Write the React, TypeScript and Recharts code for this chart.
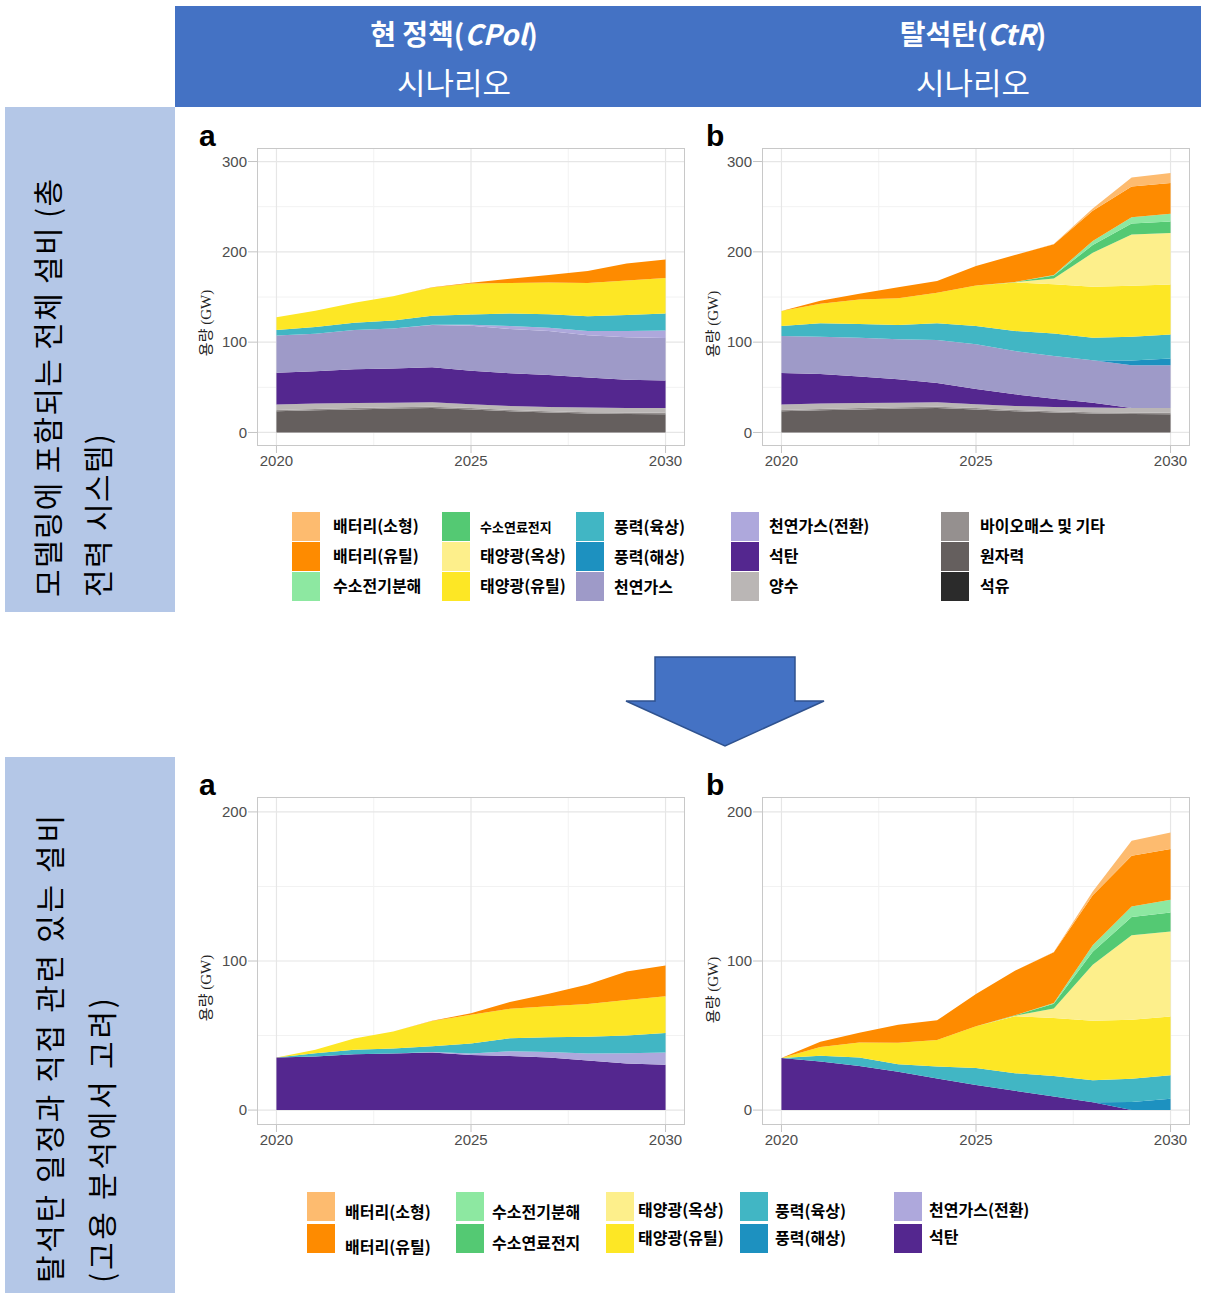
import React from 'react';
import { AreaChart, Area, XAxis, YAxis, CartesianGrid } from 'recharts';

// ---------- data ----------
const YEARS = [2020, 2021, 2022, 2023, 2024, 2025, 2026, 2027, 2028, 2029, 2030];

// shared base generation
const oil = [0, 0, 0, 0, 0, 0, 0, 0, 0, 0, 0];
const nuclear = [23.5, 24.5, 25.5, 26.5, 27, 25.5, 23.5, 22, 21, 20.5, 20.2];
const biomass = [1.5, 1.5, 1.5, 1.5, 1.5, 1.5, 1.5, 1.5, 1.5, 1.5, 1.5];
const pumped = [5.9, 6, 5.5, 5, 5, 4.3, 4.4, 4.8, 5.1, 5.2, 5.5];

// current policy (CPol)
const coalCPol = [35.3, 35.9, 37.5, 37.9, 38.6, 37, 36.2, 35.3, 33.3, 31.3, 30.4];
const gasCPol = [41.3, 41.4, 43.4, 44.3, 46.8, 49.9, 48.9, 48.8, 46.7, 46.9, 47.1];
const gasConvCPol = [0, 0, 0, 0, 0.3, 1, 3.3, 3.6, 4.7, 6.9, 8.3];
const windOnCPol = [5.9, 7.4, 8.1, 8.8, 10.1, 11.5, 14, 15, 16.5, 17.7, 18.8];
const solarUtilCPol = [14.3, 18, 22, 26.9, 31.2, 34.2, 33.8, 35, 36.8, 38.2, 39.3];
const battUtilCPol = [0, 0, 0, 0, 0.2, 1, 4.6, 8.4, 13.2, 19, 20.5];
// CPol, coal-phase-out related capacity
const windOnCoalCPol = [0, 2.3, 2.9, 3.4, 4, 6.7, 8.7, 9.9, 11.2, 11.8, 13];
const solarUtilCoalCPol = [0, 2.2, 7.6, 11.4, 16.8, 19.2, 19.7, 20.9, 21.9, 23.9, 24.7];

// coal retirement (CtR)
const coalCtR = [35, 32.6, 29.5, 25.8, 21.2, 16.9, 12.9, 9.1, 5.3, 0, 0];
const gasCtR = [40.8, 41.4, 43, 44.3, 47.6, 49.4, 47.9, 47.2, 47, 47.2, 47.2];
const windOffCtR = [0, 0, 0, 0, 0, 0, 0, 0, 0, 5.4, 7.6];
const windOnCtR = [11.1, 14.8, 15, 15.8, 18.5, 20.2, 22.1, 25.1, 25.1, 26.2, 26.6];
const solarUtilCtR = [16.6, 21.6, 27.2, 29.8, 33.8, 45, 53.8, 54.5, 56.3, 56.4, 55.3];
const solarRoofCtR = [0, 0, 0, 0, 0, 0, 0.3, 6.4, 37.6, 56.7, 57];
const fuelCellCtR = [0, 0, 0, 0, 0, 0, 0.3, 3.2, 8.7, 12.2, 12.7];
const electrolysisCtR = [0, 0, 0, 0, 0, 0, 0, 0.6, 4.4, 7.1, 8.5];
const battUtilCtR = [0, 3.4, 6.5, 12, 13.2, 21.5, 29.8, 34, 33.5, 34, 34.1];
const battSmallCtR = [0, 0, 0, 0, 0, 0, 0, 0.2, 2.5, 10, 11.1];
// CtR, coal-phase-out related capacity
const windOnCoalCtR = [0, 3.8, 5.8, 4.9, 8, 11.4, 11.8, 13.8, 14.7, 15.6, 15.8];
const solarUtilCoalCtR = [0, 6, 10, 14.5, 17.8, 28, 38.3, 38.8, 39.9, 39.6, 39.4];

const Y_TICKS_TOTAL = [0, 100, 200, 300];
const Y_MINOR_TOTAL = [50, 150, 250];
const Y_TICKS_COAL = [0, 100, 200];
const Y_MINOR_COAL = [50, 150];
const X_TICKS = [2020, 2025, 2030];
const X_MINOR = [2022.5, 2027.5];

const HEADER_LEFT = ['현 정책(', 'CPol', ')'];
const HEADER_RIGHT = ['탈석탄(', 'CtR', ')'];
const SCENARIO = '시나리오';
const SIDE_TOP = ['모델링에 포함되는 전체 설비 (총', '전력 시스템)'];
const SIDE_BOTTOM = ['탈석탄 일정과 직접 관련 있는 설비', '(고용 분석에서 고려)'];
const Y_LABEL = '용량 (GW)';

// ---------- styles ----------
const COLORS: Record<string, string> = {
  '배터리(소형)': '#fdbb6f',
  '배터리(유틸)': '#fe8b00',
  '수소전기분해': '#8de8a1',
  '수소연료전지': '#54c973',
  '태양광(옥상)': '#fdef8b',
  '태양광(유틸)': '#fde725',
  '풍력(육상)': '#41b6c4',
  '풍력(해상)': '#1d91c0',
  '천연가스': '#9e9ac8',
  '천연가스(전환)': '#aea8dc',
  '석탄': '#54278f',
  '양수': '#bab6b5',
  '바이오매스 및 기타': '#95908f',
  '원자력': '#655f5e',
  '석유': '#2b2b2b',
};

type S = { name: string; values: number[] };

const SERIES_TOP_A: S[] = [
  { name: '석유', values: oil },
  { name: '원자력', values: nuclear },
  { name: '바이오매스 및 기타', values: biomass },
  { name: '양수', values: pumped },
  { name: '석탄', values: coalCPol },
  { name: '천연가스', values: gasCPol },
  { name: '천연가스(전환)', values: gasConvCPol },
  { name: '풍력(육상)', values: windOnCPol },
  { name: '태양광(유틸)', values: solarUtilCPol },
  { name: '배터리(유틸)', values: battUtilCPol },
];
const SERIES_TOP_B: S[] = [
  { name: '석유', values: oil },
  { name: '원자력', values: nuclear },
  { name: '바이오매스 및 기타', values: biomass },
  { name: '양수', values: pumped },
  { name: '석탄', values: coalCtR },
  { name: '천연가스', values: gasCtR },
  { name: '풍력(해상)', values: windOffCtR },
  { name: '풍력(육상)', values: windOnCtR },
  { name: '태양광(유틸)', values: solarUtilCtR },
  { name: '태양광(옥상)', values: solarRoofCtR },
  { name: '수소연료전지', values: fuelCellCtR },
  { name: '수소전기분해', values: electrolysisCtR },
  { name: '배터리(유틸)', values: battUtilCtR },
  { name: '배터리(소형)', values: battSmallCtR },
];
const SERIES_BOT_A: S[] = [
  { name: '석탄', values: coalCPol },
  { name: '천연가스(전환)', values: gasConvCPol },
  { name: '풍력(육상)', values: windOnCoalCPol },
  { name: '태양광(유틸)', values: solarUtilCoalCPol },
  { name: '배터리(유틸)', values: battUtilCPol },
];
const SERIES_BOT_B: S[] = [
  { name: '석탄', values: coalCtR },
  { name: '풍력(해상)', values: windOffCtR },
  { name: '풍력(육상)', values: windOnCoalCtR },
  { name: '태양광(유틸)', values: solarUtilCoalCtR },
  { name: '태양광(옥상)', values: solarRoofCtR },
  { name: '수소연료전지', values: fuelCellCtR },
  { name: '수소전기분해', values: electrolysisCtR },
  { name: '배터리(유틸)', values: battUtilCtR },
  { name: '배터리(소형)', values: battSmallCtR },
];

const LEGEND_TOP = [
  ['배터리(소형)', '배터리(유틸)', '수소전기분해'],
  ['수소연료전지', '태양광(옥상)', '태양광(유틸)'],
  ['풍력(육상)', '풍력(해상)', '천연가스'],
  ['천연가스(전환)', '석탄', '양수'],
  ['바이오매스 및 기타', '원자력', '석유'],
];
const LEGEND_BOTTOM = [
  ['배터리(소형)', '배터리(유틸)'],
  ['수소전기분해', '수소연료전지'],
  ['태양광(옥상)', '태양광(유틸)'],
  ['풍력(육상)', '풍력(해상)'],
  ['천연가스(전환)', '석탄'],
];

const SANS = "'Liberation Sans', Arial, sans-serif";
const KR = "'Noto Sans CJK KR', 'Noto Sans', sans-serif";

// ---------- components ----------
function Panel(props: {
  plotLeft: number;
  plotTop: number;
  plotH: number;
  yMax: number;
  yTicks: number[];
  yMinor: number[];
  series: S[];
}) {
  const { plotLeft, plotTop, plotH, yMax, yTicks, yMinor, series } = props;
  const plotW = 428;
  const ml = 67;
  const mt = 8;
  const mr = 15;
  const xh = 30;
  const mb = 4;
  const width = ml + plotW + mr;
  const height = mt + plotH + xh + mb;
  const pad = yMax * 0.05;
  const rows = YEARS.map((y, i) => {
    const r: Record<string, number> = { year: y };
    series.forEach((s) => {
      r[s.name] = s.values[i];
    });
    return r;
  });
  const tick = { fill: '#4d4d4d', fontSize: 15, fontFamily: SANS };
  return (
    <div style={{ position: 'absolute', left: plotLeft - ml, top: plotTop - mt, width, height }}>
      <AreaChart width={width} height={height} data={rows} margin={{ top: mt, right: mr, bottom: mb, left: 0 }}>
        <CartesianGrid horizontalValues={yMinor} verticalValues={X_MINOR} stroke="#f2f2f2" strokeWidth={1} />
        <CartesianGrid horizontalValues={yTicks} verticalValues={X_TICKS} stroke="#e6e6e6" strokeWidth={1.2} />
        <XAxis
          dataKey="year"
          type="number"
          domain={[2019.5, 2030.5]}
          ticks={X_TICKS}
          allowDataOverflow
          axisLine={false}
          tickLine={{ stroke: '#c4c4c4' }}
          tickSize={7}
          tickMargin={2}
          height={xh}
          tick={tick}
        />
        <YAxis
          type="number"
          domain={[-pad, yMax + pad]}
          ticks={yTicks}
          allowDataOverflow
          axisLine={false}
          tickLine={{ stroke: '#c4c4c4' }}
          tickSize={9}
          tickMargin={1}
          width={ml}
          tick={tick}
        />
        {series.map((s) => (
          <Area
            key={s.name}
            dataKey={s.name}
            stackId="1"
            type="linear"
            stroke="none"
            fill={COLORS[s.name]}
            fillOpacity={1}
            dot={false}
            activeDot={false}
            isAnimationActive={false}
          />
        ))}
      </AreaChart>
      <div
        style={{
          position: 'absolute',
          left: ml,
          top: mt,
          width: plotW,
          height: plotH,
          border: '1px solid #c8c8c8',
          boxSizing: 'border-box',
          pointerEvents: 'none',
        }}
      />
    </div>
  );
}

function Legend(props: {
  columns: string[][];
  swatchX: number[];
  textX: number[];
  rowTop: number[];
  textY: number[][];
  smallItem?: string;
}) {
  const { columns, swatchX, textX, rowTop, textY, smallItem } = props;
  const out: React.ReactNode[] = [];
  columns.forEach((col, c) => {
    col.forEach((name, r) => {
      out.push(
        <div
          key={`s${c}-${r}`}
          style={{
            position: 'absolute',
            left: swatchX[c],
            top: rowTop[r],
            width: 28,
            height: 29,
            background: COLORS[name],
          }}
        />
      );
      out.push(
        <div
          key={`t${c}-${r}`}
          style={{
            position: 'absolute',
            left: textX[c],
            top: textY[c][r] - 12,
            height: 24,
            lineHeight: '24px',
            fontFamily: KR,
            fontWeight: 700,
            fontSize: name === smallItem ? 13 : 16,
            color: '#000',
            whiteSpace: 'nowrap',
          }}
        >
          {name}
        </div>
      );
    });
  });
  return <>{out}</>;
}

export default function App() {
  return (
    <div
      style={{
        position: 'absolute',
        left: 0,
        top: 0,
        width: 1213,
        height: 1293,
        background: '#fff',
        overflow: 'hidden',
      }}
    >
      <svg width={1213} height={1293} style={{ position: 'absolute', left: 0, top: 0 }}>
        {/* header */}
        <rect x={175} y={6} width={1026} height={101} fill="#4472c4" />
        <text x={454} y={45} textAnchor="middle" fill="#fff" fontFamily={KR} fontSize={28} fontWeight={700}>
          {HEADER_LEFT[0]}
          <tspan fontStyle="italic">{HEADER_LEFT[1]}</tspan>
          {HEADER_LEFT[2]}
        </text>
        <text x={454} y={94} textAnchor="middle" fill="#fff" fontFamily={KR} fontSize={30} textLength={114} lengthAdjust="spacingAndGlyphs">
          {SCENARIO}
        </text>
        <text x={973} y={45} textAnchor="middle" fill="#fff" fontFamily={KR} fontSize={28} fontWeight={700}>
          {HEADER_RIGHT[0]}
          <tspan fontStyle="italic">{HEADER_RIGHT[1]}</tspan>
          {HEADER_RIGHT[2]}
        </text>
        <text x={973} y={94} textAnchor="middle" fill="#fff" fontFamily={KR} fontSize={30} textLength={114} lengthAdjust="spacingAndGlyphs">
          {SCENARIO}
        </text>

        {/* side boxes */}
        <rect x={5} y={107} width={170} height={505} fill="#b4c7e7" />
        <rect x={5} y={757} width={170} height={536} fill="#b4c7e7" />
        <text transform="translate(59,597) rotate(-90)" fontFamily={KR} fontSize={30} fill="#000" textLength={418} lengthAdjust="spacing">
          {SIDE_TOP[0]}
        </text>
        <text transform="translate(109,597) rotate(-90)" fontFamily={KR} fontSize={30} fill="#000" textLength={163} lengthAdjust="spacing">
          {SIDE_TOP[1]}
        </text>
        <text transform="translate(61,1283) rotate(-90)" fontFamily={KR} fontSize={30} fill="#000" textLength={468} lengthAdjust="spacing">
          {SIDE_BOTTOM[0]}
        </text>
        <text transform="translate(113,1283) rotate(-90)" fontFamily={KR} fontSize={30} fill="#000" textLength={285} lengthAdjust="spacing">
          {SIDE_BOTTOM[1]}
        </text>

        {/* arrow */}
        <polygon
          points="655,657 795,657 795,701 824,701 725,746 626,701 655,701"
          fill="#4472c4"
          stroke="#2f528f"
          strokeWidth={1.5}
        />

        {/* panel tags */}
        <text x={199} y={146} fontFamily={SANS} fontWeight={700} fontSize={30} fill="#000">a</text>
        <text x={706} y={146} fontFamily={SANS} fontWeight={700} fontSize={30} fill="#000">b</text>
        <text x={199} y={795} fontFamily={SANS} fontWeight={700} fontSize={30} fill="#000">a</text>
        <text x={706} y={795} fontFamily={SANS} fontWeight={700} fontSize={30} fill="#000">b</text>

        {/* y-axis titles */}
        {[
          [211, 323],
          [718, 324],
          [211, 988],
          [718, 990],
        ].map(([x, y], i) => (
          <text
            key={i}
            transform={`translate(${x},${y}) rotate(-90)`}
            textAnchor="middle"
            fontFamily="'Liberation Serif', 'Noto Sans CJK KR', serif"
            fontSize={15}
            fill="#222"
          >
            {Y_LABEL}
          </text>
        ))}
      </svg>

      <Panel plotLeft={257} plotTop={148} plotH={298} yMax={300} yTicks={Y_TICKS_TOTAL} yMinor={Y_MINOR_TOTAL} series={SERIES_TOP_A} />
      <Panel plotLeft={762} plotTop={148} plotH={298} yMax={300} yTicks={Y_TICKS_TOTAL} yMinor={Y_MINOR_TOTAL} series={SERIES_TOP_B} />
      <Panel plotLeft={257} plotTop={797} plotH={328} yMax={200} yTicks={Y_TICKS_COAL} yMinor={Y_MINOR_COAL} series={SERIES_BOT_A} />
      <Panel plotLeft={762} plotTop={797} plotH={328} yMax={200} yTicks={Y_TICKS_COAL} yMinor={Y_MINOR_COAL} series={SERIES_BOT_B} />

      <Legend
        columns={LEGEND_TOP}
        swatchX={[292, 442, 576, 731, 941]}
        textX={[333, 480, 614, 769, 980]}
        rowTop={[512, 542, 572]}
        textY={[
          [525, 555, 585],
          [527, 555, 585],
          [526, 556, 586],
          [525, 555, 585],
          [525, 555, 585],
        ]}
        smallItem="수소연료전지"
      />
      <Legend
        columns={LEGEND_BOTTOM}
        swatchX={[307, 456, 606, 740, 894]}
        textX={[345, 492, 638, 775, 929]}
        rowTop={[1192, 1224]}
        textY={[
          [1211, 1246],
          [1211, 1242],
          [1209, 1237],
          [1210, 1237],
          [1209, 1236],
        ]}
      />
    </div>
  );
}
